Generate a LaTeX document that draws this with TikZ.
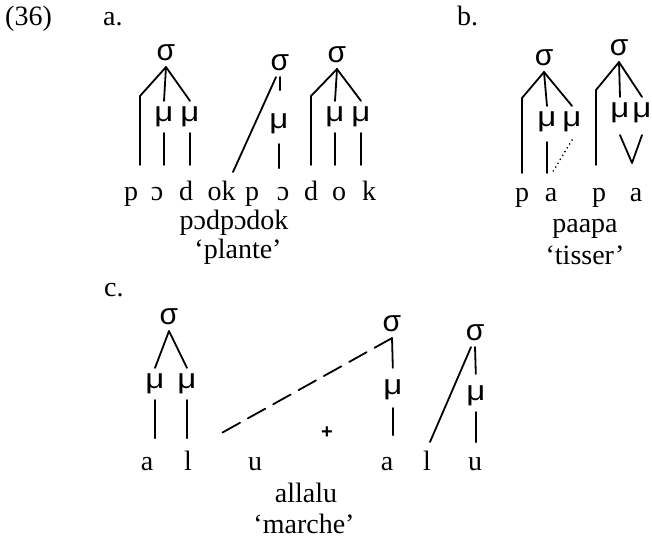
\documentclass[tikz,border=0pt]{standalone}
\usepackage{fontspec}
\setmainfont{Liberation Serif}
\newfontfamily\sgr{Liberation Sans}
\newcommand{\mug}{\scalebox{1.18}[1]{μ}}
\begin{document}
\begin{tikzpicture}[x=1pt,y=-1pt,
  txt/.style={font=\fontsize{28}{30}\selectfont, inner sep=0pt, anchor=base},
  lbl/.style={txt, anchor=base west},
  sg/.style={font=\sgr\fontsize{30}{30}\selectfont, inner sep=0pt, outer sep=6pt},
  mu/.style={font=\sgr\fontsize{28}{30}\selectfont, inner sep=0pt, outer sep=6pt},
  ln/.style={line width=1.8pt, line join=round, line cap=round},
  dotln/.style={ln, dash pattern=on 0pt off 4.5pt},
  dashln/.style={ln, dash pattern=on 20pt off 9pt}]
\useasboundingbox (0,0) rectangle (652,539);

% labels
\node[lbl] (n36) at (5,25) {(36)};
\node[lbl] (la) at (103,25) {a.};
\node[lbl] (lb) at (457,25) {b.};
\node[lbl] (lc) at (104,296) {c.};

% ---------- a ----------
\node[sg] (sa1) at (166,53) {σ};
\node[mu] (ma1) at (164,117) {\mug};
\node[mu] (ma2) at (190,117) {\mug};
\node[sg] (sa2) at (280,63) {σ};
\node[mu] (ma3) at (279,124) {\mug};
\node[sg] (sa3) at (337,55) {σ};
\node[mu] (ma4) at (335,117) {\mug};
\node[mu] (ma5) at (361,117) {\mug};

\node[txt] (ap1) at (131,200) {p};
\node[txt] (ao1) at (157,200) {ɔ};
\node[txt] (ad1) at (186,200) {d};
\node[txt] (aok) at (221.5,200) {ok};
\node[txt] (ap2) at (252,200) {p};
\node[txt] (ao2) at (283,200) {ɔ};
\node[txt] (ad2) at (311,200) {d};
\node[txt] (ao3) at (339,200) {o};
\node[txt] (ak) at (369,200) {k};
\node[txt] (aname) at (234,229) {pɔdpɔdok};
\node[txt] (agloss) at (238,258) {‘plante’};

\coordinate (a1b) at (140,96);
\coordinate (a1e) at (140,165);
\coordinate (a2e) at (233,172);
\coordinate (a3b) at (311,96);
\coordinate (a3e) at (311,165);

\draw[ln] (sa1.south) -- (a1b) -- (a1e);
\draw[ln] (sa1.south) -- (ma1.north);
\draw[ln] (sa1.south) -- (ma2.north);
\draw[ln] (ma1.south) -- (ma1.south |- a1e);
\draw[ln] (ma2.south) -- (ma2.south |- a1e);

\draw[ln] (sa2.south) -- ++(0,13);
\draw[ln] ([xshift=-4pt]sa2.south) -- (a2e);
\draw[ln] ([yshift=-4pt]ma3.south) -- ++(0,24);

\draw[ln] (sa3.south) -- (a3b) -- (a3e);
\draw[ln] (sa3.south) -- (ma4.north);
\draw[ln] (sa3.south) -- (ma5.north);
\draw[ln] (ma4.south) -- (ma4.south |- a3e);
\draw[ln] (ma5.south) -- (ma5.south |- a3e);

% ---------- b ----------
\node[sg] (sb1) at (544,58) {σ};
\node[mu] (mb1) at (547,122) {\mug};
\node[mu] (mb2) at (572,122) {\mug};
\node[sg] (sb2) at (619,48) {σ};
\node[mu] (mb3) at (620,113) {\mug};
\node[mu] (mb4) at (642,113) {\mug};

\node[txt] (bp1) at (522,201) {p};
\node[txt] (ba1) at (551,201) {a};
\node[txt] (bp2) at (599,201) {p};
\node[txt] (ba2) at (636,201) {a};
\node[txt] (bname) at (585,232) {paapa};
\node[txt] (bgloss) at (585,264) {‘tisser’};

\coordinate (b1b) at (522,98);
\coordinate (b1e) at (522,173);
\coordinate (bdot) at (552,173);
\coordinate (b2b) at (596,90);
\coordinate (b2e) at (596,165);
\coordinate (vtip) at (632,163);

\draw[ln] (sb1.south) -- (b1b) -- (b1e);
\draw[ln] (sb1.south) -- (mb1.north);
\draw[ln] (sb1.south) -- (mb2.north);
\draw[ln] ([yshift=-4pt]mb1.south) -- (mb1.south |- b1e);
\draw[dotln] ([yshift=-2pt]mb2.south) -- (bdot);

\draw[ln] (sb2.south) -- (b2b) -- (b2e);
\draw[ln] (sb2.south) -- (mb3.north);
\draw[ln] (sb2.south) -- (mb4.north);
\draw[ln] ([yshift=-6pt]mb3.south) -- (vtip) -- ([yshift=-6pt]mb4.south);

% ---------- c ----------
\node[sg] (sc1) at (169,317) {σ};
\node[mu] (mc1) at (155,384) {\mug};
\node[mu] (mc2) at (187,384) {\mug};
\node[sg] (sc2) at (392,324) {σ};
\node[mu] (mc3) at (393,390) {\mug};
\node[sg] (sc3) at (475,333) {σ};
\node[mu] (mc4) at (476,396) {\mug};

\node[txt] (ca1) at (147,470) {a};
\node[txt] (cl1) at (188,470) {l};
\node[txt] (cu1) at (255,470) {u};
\node[txt] (ca2) at (387,470) {a};
\node[txt] (cl2) at (427,470) {l};
\node[txt] (cu2) at (475,470) {u};
\node[txt] (cname) at (306,502) {allalu};
\node[txt] (cgloss) at (304,533) {‘marche’};
\node[font=\sgr\bfseries\fontsize{20}{20}\selectfont, inner sep=0pt] (plus) at (327,433) {+};

\coordinate (c2e) at (218,435);
\coordinate (c3e) at (430,442);

\draw[ln] (sc1.south) -- (mc1.north);
\draw[ln] (sc1.south) -- (mc2.north);
\draw[ln] (mc1.south) -- ++(0,38);
\draw[ln] (mc2.south) -- ++(0,38);

\draw[ln, shorten >=6pt] (sc2.south) -- (mc3.north);
\draw[dashln] (sc2.south) -- (c2e);
\draw[ln] ([yshift=-2pt]mc3.south) -- ++(0,27);

\draw[ln, shorten >=6pt] (sc3.south) -- (mc4.north);
\draw[ln] ([xshift=-4pt]sc3.south) -- (c3e);
\draw[ln] (mc4.south) -- ++(0,30);
\end{tikzpicture}
\end{document}
